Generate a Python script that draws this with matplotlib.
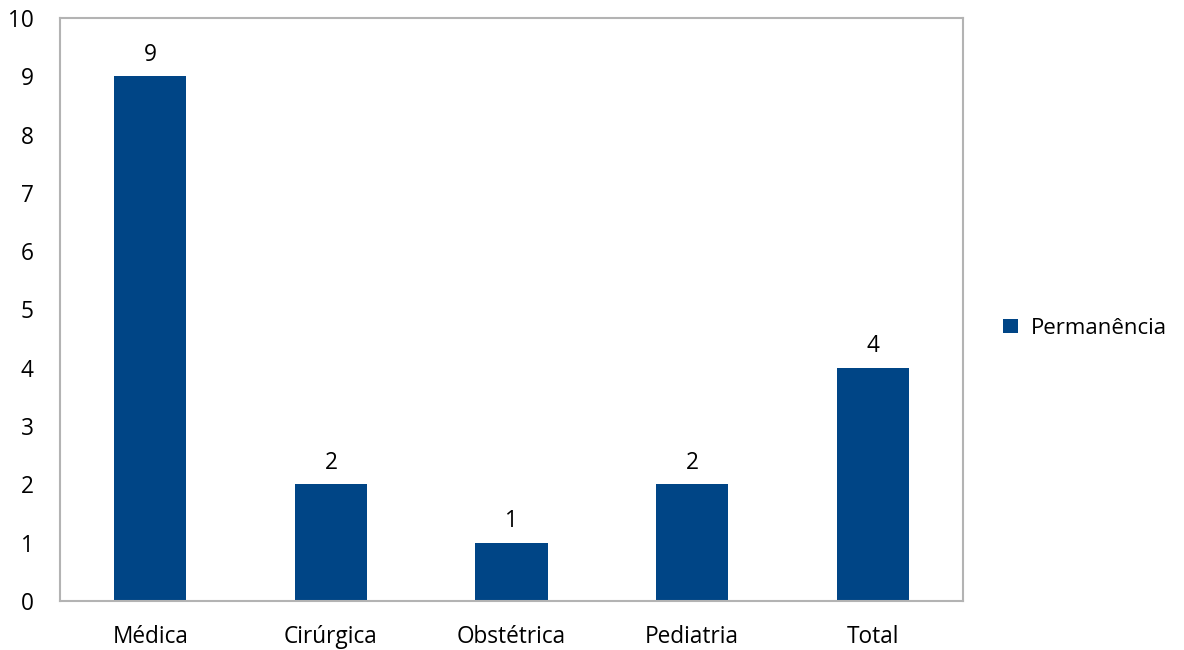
import matplotlib.pyplot as plt

plt.rcParams['font.family'] = ['Open Sans', 'DejaVu Sans']

categories = ['Médica', 'Cirúrgica', 'Obstétrica', 'Pediatria', 'Total']
permanencia = [9, 2, 1, 2, 4]
y_ticks = list(range(0, 11))

BAR_COLOR = '#004586'
EDGE_COLOR = '#b3b3b3'


def main():
    fig = plt.figure(figsize=(11.84, 6.5), dpi=100)
    ax = fig.add_axes([0.0507, 0.0754, 0.7626, 0.8969])

    x = range(len(categories))
    bars = ax.bar(x, permanencia, width=0.4, color=BAR_COLOR, label='Permanência')
    ax.bar_label(bars, labels=[str(v) for v in permanencia], padding=7, fontsize=16.3)

    ax.set_xlim(-0.5, len(categories) - 0.5)
    ax.set_ylim(0, 10)
    ax.set_yticks(y_ticks)
    ax.set_xticks(list(x))
    ax.set_xticklabels(categories)
    ax.tick_params(axis='both', length=0, labelsize=16.3)
    ax.tick_params(axis='x', pad=17)
    ax.tick_params(axis='y', pad=19)

    for spine in ax.spines.values():
        spine.set_color(EDGE_COLOR)
        spine.set_linewidth(1.5)

    fig.legend(loc='center left', bbox_to_anchor=(0.8305, 0.495), frameon=False,
               fontsize=16, handlelength=0.65, handleheight=0.65, handletextpad=0.6)

    fig.savefig('out.png', dpi=100)


if __name__ == '__main__':
    main()
